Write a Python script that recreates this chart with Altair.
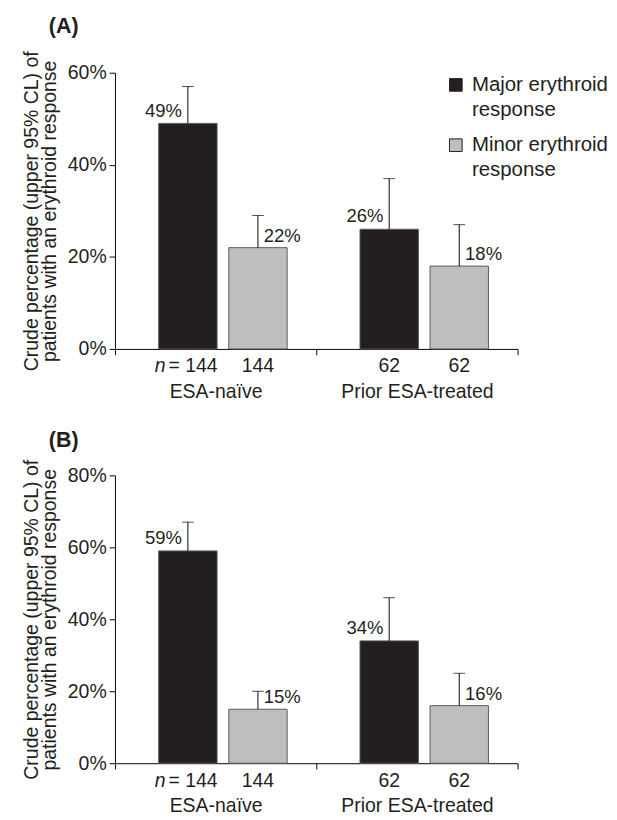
import altair as alt
import pandas as pd

group_order = ["ESA-naïve", "Prior ESA-treated"]
series_order = ["Major erythroid response", "Minor erythroid response"]
groups = ["ESA-naïve", "ESA-naïve", "Prior ESA-treated", "Prior ESA-treated"]
series = ["Major erythroid response", "Minor erythroid response",
          "Major erythroid response", "Minor erythroid response"]
counts = [144, 144, 62, 62]
show_n = [True, False, False, False]

a_values = [49, 22, 26, 18]
a_upper = [57, 29, 37, 27]
b_values = [59, 15, 34, 16]
b_upper = [67, 20, 46, 25]
a_ticks = [0, 20, 40, 60]
b_ticks = [0, 20, 40, 60, 80]

FONT = "Liberation Sans"
TXT = "#231f20"
y_title = ["Crude percentage (upper 95% CL) of", "patients with an erythroid response"]


def panel(letter, values, upper, ticks, height, title_offset):
    df = pd.DataFrame({
        "group": groups, "series": series, "value": values,
        "upper": upper, "count": counts, "show_n": show_n,
        "label": [f"{v}%" for v in values],
    })
    base = alt.Chart(df)
    x = alt.X("group:N", sort=group_order,
              scale=alt.Scale(domain=group_order, paddingInner=0, paddingOuter=0),
              axis=alt.Axis(title=None, labelAngle=0, tickBand="extent", tickSize=6,
                            tickColor="black", domainColor="black", labelPadding=28,
                            labelFontSize=20, labelColor=TXT, labelFont=FONT))
    xo = alt.XOffset("series:N", sort=series_order,
                     scale=alt.Scale(domain=series_order, paddingInner=0.1667,
                                     paddingOuter=0.52, align=0.6))
    y = alt.Y("value:Q", scale=alt.Scale(domain=[0, ticks[-1]], nice=False),
              axis=alt.Axis(values=ticks, labelExpr="datum.value + '%'", title=y_title,
                            titleFontSize=20, titleFontWeight="normal", titleFont=FONT,
                            titleColor=TXT, titleLineHeight=19, titlePadding=8,
                            labelFontSize=20, labelColor=TXT, labelFont=FONT,
                            tickSize=6, tickColor="black", domainColor="black",
                            labelPadding=3, grid=False))
    bars = base.mark_bar(stroke="#58595b", strokeWidth=1).encode(
        x=x, xOffset=xo, y=y,
        color=alt.Color("series:N", sort=series_order,
                        scale=alt.Scale(domain=series_order, range=["#231f20", "#bcbec0"]),
                        legend=alt.Legend(title=None, orient="none", legendX=340, legendY=2,
                                          labelFontSize=21, labelFont=FONT, labelColor=TXT,
                                          symbolType="square", symbolSize=169,
                                          symbolStrokeColor="#231f20", symbolStrokeWidth=1,
                                          labelOffset=6, rowPadding=14, labelLimit=300,
                                          labelExpr="[slice(datum.label, 0, 15), 'response']")),
    )
    stems = base.mark_rule(color="black", strokeWidth=1).encode(
        x=x, xOffset=xo, y="value:Q", y2="upper:Q")
    caps = base.mark_tick(color="black", thickness=1, size=12, orient="horizontal").encode(
        x=x, xOffset=xo, y="upper:Q")
    lab_major = base.transform_filter(alt.datum.series == series_order[0]).mark_text(
        align="right", baseline="alphabetic", dx=-6, dy=-7, fontSize=19, font=FONT, color=TXT
    ).encode(x=x, xOffset=xo, y="value:Q", text="label:N")
    lab_minor = base.transform_filter(alt.datum.series == series_order[1]).mark_text(
        align="left", baseline="alphabetic", dx=6, dy=-6, fontSize=19, font=FONT, color=TXT
    ).encode(x=x, xOffset=xo, y="value:Q", text="label:N")
    n_plain = base.transform_filter("!datum.show_n").mark_text(
        align="center", baseline="alphabetic", dy=24, fontSize=20, font=FONT, color=TXT
    ).encode(x=x, xOffset=xo, y=alt.datum(0), text="count:N")
    n_eq = base.transform_filter("datum.show_n").transform_calculate(
        t="'= ' + datum.count").mark_text(
        align="left", baseline="alphabetic", dx=-20, dy=24, fontSize=20, font=FONT, color=TXT
    ).encode(x=x, xOffset=xo, y=alt.datum(0), text="t:N")
    n_it = base.transform_filter("datum.show_n").transform_calculate(t="'n'").mark_text(
        align="right", baseline="alphabetic", dx=-23, dy=24, fontSize=20, font=FONT,
        fontStyle="italic", color=TXT
    ).encode(x=x, xOffset=xo, y=alt.datum(0), text="t:N")
    return alt.layer(bars, stems, caps, lab_major, lab_minor, n_plain, n_eq, n_it).properties(
        width=414, height=height,
        title=alt.TitleParams(letter, anchor="start", frame="group", dx=-68, fontSize=22,
                              fontWeight="bold", font=FONT, color=TXT, offset=title_offset),
    )


chart = alt.vconcat(
    panel("(A)", a_values, a_upper, a_ticks, 284, 13),
    panel("(B)", b_values, b_upper, b_ticks, 296, 8),
    spacing=28,
).properties(padding={"left": 13, "top": -4, "right": 0, "bottom": 0}).configure(
    view={"stroke": None},
    style={"guide-label": {"lineHeight": 26}},
)

chart.save("out.html", embed_options={"renderer": "svg", "actions": False})
